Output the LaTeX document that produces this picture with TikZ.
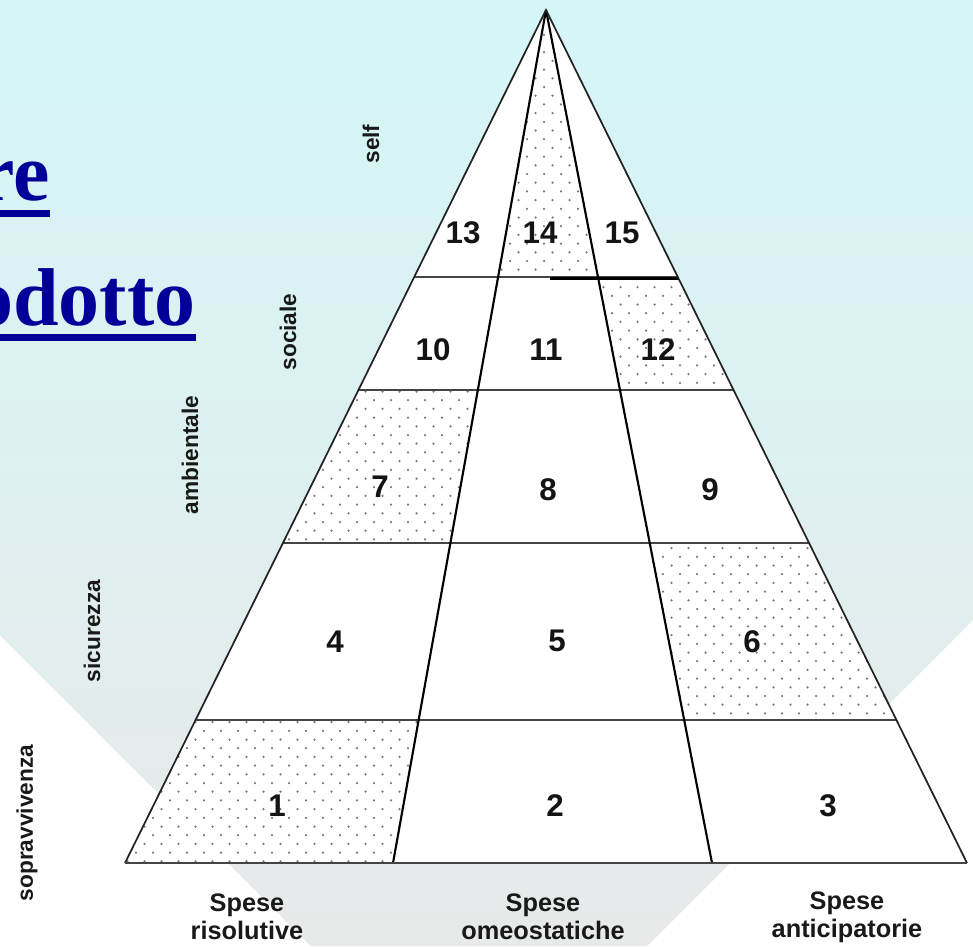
\documentclass[tikz,border=0pt]{standalone}
\usepackage{fontspec}
\setmainfont{Liberation Serif}
\newfontfamily\arialf{Liberation Sans}
\usetikzlibrary{calc}
\definecolor{bgtop}{RGB}{212,246,247}
\definecolor{bgbot}{RGB}{232,233,233}
\definecolor{titleblue}{RGB}{0,0,153}
\definecolor{dotc}{RGB}{120,120,120}
\definecolor{edgec}{RGB}{35,35,35}
\newcommand\dotgrid[4]{%
  \foreach \j in {#3,...,#4}{%
    \foreach \i in {#1,...,#2}{%
      \fill[dotc] ({17*\i+8.5*mod(\j,2)},{8.7*\j}) circle[radius=1.25];}}}
\begin{document}
\begin{tikzpicture}[x=0.75pt,y=-0.75pt,
  cellnum/.style={font=\arialf\bfseries\fontsize{23.5}{24}\selectfont, inner sep=0pt, text=black!92},
  sidelab/.style={font=\arialf\bfseries\fontsize{17}{18}\selectfont, rotate=90, inner sep=0pt, text=black!90},
  baselab/.style={font=\arialf\bfseries\fontsize{19}{21}\selectfont, align=center, inner sep=0pt, text=black!90},
  titletext/.style={font=\bfseries\fontsize{61.5}{70}\selectfont, text=titleblue, inner sep=0pt, anchor=base west},
  edge/.style={draw=edgec, line width=1.3pt},
  divline/.style={draw=black, line width=1.6pt},
  hline/.style={draw=edgec!85, line width=1.6pt},
  cellfill/.style={fill=white}]
\useasboundingbox (0,0) rectangle (973,946);
\clip (0,0) rectangle (973,946);
% background
\fill[white] (0,0) rectangle (973,946);
\shade[top color=bgtop, bottom color=bgbot] (0,0) -- (973,0) -- (973,620) -- (647,946) -- (311,946) -- (0,635) -- cycle;
% title fragments
\node[titletext] (t1) at (-22,200) {re};
\fill[titleblue] ($(t1.base west)+(0,10)$) rectangle ($(t1.base east)+(0,17)$);
\node[titletext] (t2) at (-28,325) {odotto};
\fill[titleblue] ($(t2.base west)+(0,9)$) rectangle ($(t2.base east)+(0,16)$);
% pyramid coordinates
\coordinate (A) at (546,10);
\coordinate (BL) at (125,863);
\coordinate (BR) at (967,863);
\coordinate (D1) at (393,863);
\coordinate (D2) at (712,863);
\foreach \k/\t in {1/0.16764,2/0.37515,3/0.55451,4/0.68699}{
  \coordinate (L\k) at ($(BL)!\t!(A)$);
  \coordinate (P\k) at ($(D1)!\t!(A)$);
  \coordinate (Q\k) at ($(D2)!\t!(A)$);
  \coordinate (R\k) at ($(BR)!\t!(A)$);
}
\fill[cellfill] (BL) -- (BR) -- (A) -- cycle;
% dotted cells
\begin{scope}
  \clip (BL) -- (D1) -- (P1) -- (L1) -- cycle;
  \dotgrid{7}{24}{82}{99}
\end{scope}
\begin{scope}
  \clip (Q1) -- (R1) -- (R2) -- (Q2) -- cycle;
  \dotgrid{39}{53}{62}{83}
\end{scope}
\begin{scope}
  \clip (L2) -- (P2) -- (P3) -- (L3) -- cycle;
  \dotgrid{17}{28}{44}{63}
\end{scope}
\begin{scope}
  \clip (Q3) -- (R3) -- (R4) -- (Q4) -- cycle;
  \dotgrid{34}{43}{31}{45}
\end{scope}
\begin{scope}
  \clip (P4) -- (Q4) -- (A) -- cycle;
  \dotgrid{28}{35}{1}{32}
\end{scope}
% lines
\draw[hline] (L1) -- (R1);
\draw[hline] (L2) -- (R2);
\draw[hline] (L3) -- (R3);
\draw[hline] (L4) -- (R4);
\draw[draw=black, line width=2pt] ($(P4)!0.52!(Q4)+(0,1.5)$) -- ($(R4)+(0,1.5)$);
\draw[divline] (D1) -- (A);
\draw[divline] (D2) -- (A);
\draw[edge] (BL) -- (A) -- (BR);
\draw[hline] (BL) -- (BR);
% cell numbers
\node[cellnum] (n1) at (277,806) {1};
\node[cellnum] (n2) at (555,806) {2};
\node[cellnum] (n3) at (828,806) {3};
\node[cellnum] (n4) at (335,642) {4};
\node[cellnum] (n5) at (557,641) {5};
\node[cellnum] (n6) at (752,642) {6};
\node[cellnum] (n7) at (380,487) {7};
\node[cellnum] (n8) at (548,490) {8};
\node[cellnum] (n9) at (710,490) {9};
\node[cellnum] (n10) at (433,350) {10};
\node[cellnum] (n11) at (546,350) {11};
\node[cellnum] (n12) at (658,350) {12};
\node[cellnum] (n13) at (463,233) {13};
\node[cellnum] (n14) at (540,233) {14};
\node[cellnum] (n15) at (622,233) {15};
% side labels
\node[sidelab] (lself) at (371,144) {self};
\node[sidelab] (lsoc) at (288,332) {sociale};
\node[sidelab] (lamb) at (190,455) {ambientale};
\node[sidelab] (lsic) at (92,631) {sicurezza};
\node[sidelab] (lsop) at (27,823) {sopravvivenza};
% base labels
\node[baselab] (b1) at (247,917) {Spese\\risolutive};
\node[baselab] (b2) at (543,917) {Spese\\omeostatiche};
\node[baselab] (b3) at (847,917) {Spese\\anticipatorie};
\end{tikzpicture}
\end{document}
